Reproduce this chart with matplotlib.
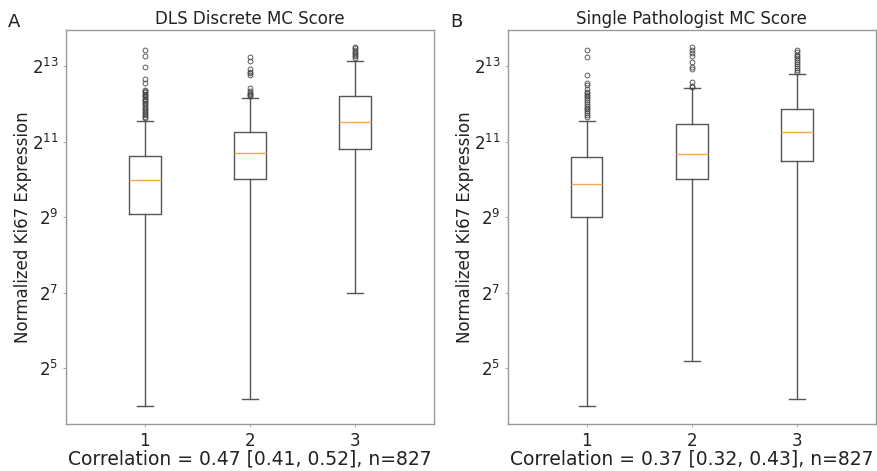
import numpy as np
import matplotlib
matplotlib.use("Agg")
import matplotlib.pyplot as plt

# values are log2(normalized Ki67 expression)
scores = [1, 2, 3]

# ---- panel A: DLS discrete MC score ----
dls_whislo = [4.00, 4.20, 6.99]
dls_q1 = [9.08, 10.01, 10.81]
dls_med = [9.98, 10.71, 11.52]
dls_q3 = [10.63, 11.25, 12.20]
dls_whishi = [11.55, 12.16, 13.14]
dls_fliers = [
    [13.42, 13.26, 12.96, 12.65, 12.56, 12.37, 12.33, 12.30, 12.27, 12.24, 12.20,
     12.17, 12.13, 12.10, 12.06, 12.02, 11.98, 11.94, 11.90, 11.86, 11.82, 11.78,
     11.74, 11.70, 11.66, 11.62],
    [13.23, 13.14, 12.91, 12.85, 12.80, 12.75, 12.41, 12.33, 12.29, 12.26, 12.23, 12.20],
    [13.51, 13.47, 13.42, 13.38, 13.34, 13.30, 13.25, 13.20],
]

# ---- panel B: single pathologist MC score ----
path_whislo = [4.00, 5.20, 4.20]
path_q1 = [9.01, 10.00, 10.48]
path_med = [9.87, 10.66, 11.24]
path_q3 = [10.58, 11.46, 11.85]
path_whishi = [11.55, 12.41, 12.79]
path_fliers = [
    [13.42, 13.23, 12.76, 12.54, 12.50, 12.40, 12.32, 12.28, 12.24, 12.20, 12.15,
     12.10, 12.05, 12.00, 11.95, 11.90, 11.85, 11.80, 11.75, 11.70, 11.66],
    [13.51, 13.42, 13.34, 13.25, 13.11, 12.98, 12.91, 12.58, 12.47, 12.44],
    [13.42, 13.36, 13.30, 13.25, 13.20, 13.15, 13.10, 13.05, 13.00, 12.95, 12.90, 12.85],
]

titles = ["DLS Discrete MC Score", "Single Pathologist MC Score"]
letters = ["A", "B"]
corr_labels = ["Correlation = 0.47 [0.41, 0.52], n=827",
               "Correlation = 0.37 [0.32, 0.43], n=827"]
ytick_exps = [5, 7, 9, 11, 13]


def make_stats(whislo, q1, med, q3, whishi, fliers):
    stats = []
    for i in range(len(med)):
        stats.append(dict(whislo=whislo[i], q1=q1[i], med=med[i], q3=q3[i],
                          whishi=whishi[i], fliers=fliers[i], label=str(scores[i])))
    return stats


panels = [
    make_stats(dls_whislo, dls_q1, dls_med, dls_q3, dls_whishi, dls_fliers),
    make_stats(path_whislo, path_q1, path_med, path_q3, path_whishi, path_fliers),
]

fig = plt.figure(figsize=(8.77, 4.71), dpi=100)
ax_left = [0.0753, 0.579]
line_c = "#555555"

for k in range(2):
    ax = fig.add_axes([ax_left[k], 0.0998, 0.4196, 0.8365])
    ax.bxp(panels[k], positions=scores, widths=0.3,
           boxprops=dict(color=line_c, linewidth=1),
           whiskerprops=dict(color=line_c, linewidth=1),
           capprops=dict(color=line_c, linewidth=1),
           medianprops=dict(color="#f5a850", linewidth=1),
           flierprops=dict(marker="o", markersize=3.5, markerfacecolor="none",
                           markeredgecolor="#444444", markeredgewidth=0.6))
    ax.set_xlim(0.25, 3.75)
    ax.set_ylim(3.53, 13.95)
    ax.set_yticks(ytick_exps)
    ax.set_yticklabels([f"$2^{{{e}}}$" for e in ytick_exps])
    ax.tick_params(axis="both", labelsize=12, length=2, width=0.6, colors="#999999",
                   labelcolor="#222222")
    for s in ax.spines.values():
        s.set_color("#999999")
        s.set_linewidth(1)
    ax.set_title(titles[k], fontsize=12, color="#222222", pad=4)
    ax.set_ylabel("Normalized Ki67 Expression", fontsize=12, color="#222222", labelpad=0)
    ax.set_xlabel(corr_labels[k], fontsize=13.5, color="#222222", labelpad=0)
    fig.text(ax_left[k] - 0.066, 0.943, letters[k], fontsize=13, color="#222222")

fig.savefig("out.png", dpi=100)
